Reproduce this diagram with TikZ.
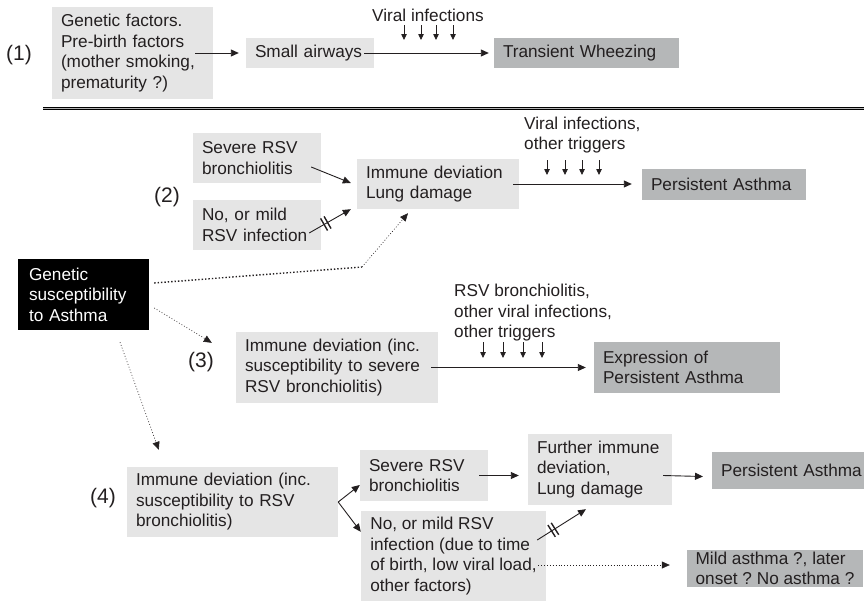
\documentclass[tikz,border=0pt]{standalone}
\usepackage{fontspec}
\setmainfont{Liberation Sans}
\usetikzlibrary{arrows.meta,decorations.markings}
\definecolor{BoxLight}{HTML}{E5E5E5}
\definecolor{BoxDark}{HTML}{B5B7B8}
\definecolor{InkDark}{HTML}{231F20}
\frenchspacing

\begin{document}
\begin{tikzpicture}[x=1pt, y=-1pt,
  font=\fontsize{17.2}{20.5}\selectfont, text=InkDark,
  box/.style={fill=BoxLight, align=left, inner xsep=9pt, inner ysep=2pt},
  outcome/.style={box, fill=BoxDark},
  risk/.style={box, fill=black, text=white},
  tag/.style={font=\fontsize{21}{24}\selectfont},
  note/.style={align=left, inner sep=0pt, anchor=west},
  flow/.style={-{Triangle[length=8pt,width=7pt]}, line width=0.9pt, InkDark},
  trig/.style={-{Triangle[length=6pt,width=5.5pt]}, line width=0.8pt, InkDark},
  link/.style={flow, dotted, line width=0.6pt},
  blocked/.style={postaction={decorate}, decoration={markings,
    mark=at position #1 with {\draw[-, line width=1.4pt] (-2pt,-7pt) -- (-2pt,7pt) (2pt,-7pt) -- (2pt,7pt);}}}
]
\useasboundingbox (0,0) rectangle (864,600);

% (1) transient wheezing
\node[tag] (lab1) at (19,55) {(1)};
\node[box, text width=143pt, minimum height=92pt] (pre) at (132.5,53) {Genetic factors.\\Pre-birth factors\\(mother smoking,\\prematurity ?)};
\node[box, text width=110pt, minimum height=30pt] (air) at (310,53) {Small airways};
\node[outcome, text width=167pt, minimum height=30pt] (tw) at (586.5,53) {Transient Wheezing};
\node[note] (vir1) at (372,15) {Viral infections};
\coordinate (vt1) at (404,25);
\foreach \dx in {0,17,32,49}
  \draw[trig] ([xshift=\dx pt]vt1) -- ++(0,15);
\draw[flow] ([xshift=-18pt]pre.east) -- ([xshift=-7pt]air.west);
\draw[flow] ([xshift=-10pt]air.east) -- ([xshift=-5pt]tw.west);

\draw[line width=0.9pt, double=gray!60, double distance=1.5pt] (43,108.5) -- (864,108.5);

% (2) RSV bronchiolitis as a cause
\node[tag] (lab2) at (167,197) {(2)};
\node[box, text width=110pt, minimum height=50pt] (sev2) at (257,158) {Severe RSV\\bronchiolitis};
\node[box, text width=110pt, minimum height=50pt] (mild2) at (257,225) {No, or mild\\RSV infection};
\node[box, text width=144pt, minimum height=50pt] (imm2) at (438,184) {Immune deviation\\Lung damage};
\node[outcome, text width=146pt, minimum height=31pt] (pa2) at (724,184) {Persistent Asthma};
\node[note] (vir2) at (524,135) {Viral infections,\\other triggers};
\coordinate (vt2) at (547,160);
\foreach \dx in {0,18,35,52}
  \draw[trig] ([xshift=\dx pt]vt2) -- ++(0,15);
\draw[flow] ([xshift=-10pt,yshift=-9pt]sev2.east) -- ([xshift=-6pt,yshift=1pt]imm2.west);
\draw[flow, blocked=0.4] ([xshift=-12pt,yshift=-8pt]mild2.east) -- ([xshift=-6pt]imm2.south west);
\draw[flow] ([xshift=-6pt]imm2.east) -- ([xshift=-10pt]pa2.west);

% genetic susceptibility
\node[risk, text width=109pt, minimum height=71pt, inner xsep=11pt] (gen) at (83.5,294.5) {Genetic\\susceptibility\\to Asthma};
\coordinate (kink) at (362,267);
\draw[dotted, line width=1.4pt, InkDark] ([xshift=5pt,yshift=11.5pt]gen.east) -- (kink);
\draw[link] (kink) -- ([xshift=-30pt,yshift=-4pt]imm2.south);

% (3) immune deviation first
\node[tag] (lab3) at (201,362) {(3)};
\node[box, text width=184pt, minimum height=71pt] (imm3) at (337,367.5) {Immune deviation (inc.\\susceptibility to severe\\RSV bronchiolitis)};
\node[outcome, text width=168pt, minimum height=51pt] (exp3) at (687,367.5) {Expression of\\Persistent Asthma};
\node[note] (vir3) at (454,313) {RSV bronchiolitis,\\other viral infections,\\other triggers};
\coordinate (vt3) at (483,342);
\foreach \dx in {0,20,40,59}
  \draw[trig] ([xshift=\dx pt]vt3) -- ++(0,16);
\draw[link] ([xshift=5pt,yshift=-13.5pt]gen.east) -- ([xshift=-24pt,yshift=-11pt]imm3.north west);
\draw[flow] ([xshift=-7pt]imm3.east) -- ([xshift=-8pt]exp3.west);

% (4) both
\node[tag] (lab4) at (103,498) {(4)};
\node[box, text width=193pt, minimum height=70pt] (imm4) at (232.5,502) {Immune deviation (inc.\\susceptibility to RSV\\bronchiolitis)};
\node[box, text width=110pt, minimum height=51pt] (sev4) at (424,475.5) {Severe RSV\\bronchiolitis};
\node[box, minimum width=185pt, minimum height=90pt, inner xsep=6pt] (mild4) at (453.5,556) {No, or mild RSV\\infection (due to time\\of birth, low viral load,\\other factors)};
\node[box, text width=126pt, minimum height=71pt] (fur4) at (600,469.5) {Further immune\\deviation,\\Lung damage};
\node[outcome, text width=150pt, minimum height=37pt, anchor=west] (pa4) at (712,470.5) {Persistent Asthma};
\node[outcome, minimum width=176pt, minimum height=37pt, inner xsep=6pt] (mo) at (775,568.5) {Mild asthma ?, later\\onset ? No asthma ?};
\draw[link] ([xshift=36.5pt,yshift=-12pt]gen.south) -- ([xshift=32pt,yshift=17pt]imm4.north west);
\draw[flow] (imm4.east) -- ([yshift=-9.5pt]sev4.west);
\draw[flow] (imm4.east) -- ([yshift=-21pt]mild4.north west);
\draw[flow] ([xshift=-9pt]sev4.east) -- ([xshift=-9pt]fur4.west |- sev4.east);
\draw[flow] ([xshift=-9pt,yshift=-6pt]fur4.east) -- ([xshift=-9pt,yshift=-6pt]pa4.west);
\draw[flow, blocked=0.33] ([xshift=-9pt,yshift=16pt]mild4.east) -- ([xshift=-14pt,yshift=-4pt]fur4.south);
\draw[link] ([xshift=-8pt,yshift=-9pt]mild4.east) -- ([xshift=-17pt,yshift=3.5pt]mo.west);
\end{tikzpicture}
\end{document}
